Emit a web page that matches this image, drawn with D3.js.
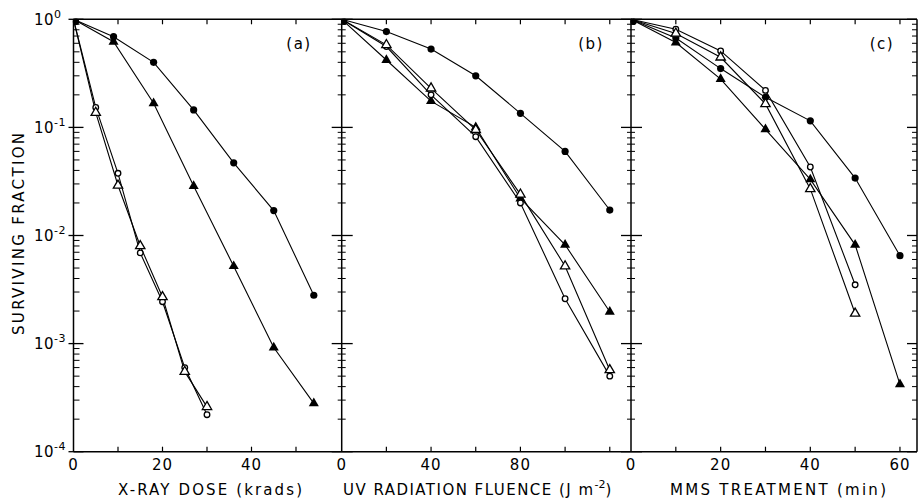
<!DOCTYPE html>
<html>
<head>
<meta charset="utf-8">
<script src="https://cdn.jsdelivr.net/npm/d3@7"></script>
<style>
  body { margin: 0; background: #fff; }
  svg text { font-family: "DejaVu Sans", sans-serif; fill: #000; }
</style>
</head>
<body>
<div id="chart"></div>
<script>
// ---- data ----
const xrayDoseFilled = [0, 9, 18, 27, 36, 45, 54];
const xrayDoseOpen = [0, 5, 10, 15, 20, 25, 30];
const xrayFilledCircle = [1, 0.69, 0.40, 0.145, 0.047, 0.017, 0.0028];
const xrayFilledTriangle = [1, 0.62, 0.167, 0.0287, 0.0052, 0.00092, 0.00028];
const xrayOpenCircle = [1, 0.153, 0.0376, 0.0069, 0.00244, 0.0006, 0.00022];
const xrayOpenTriangle = [1, 0.137, 0.029, 0.008, 0.0027, 0.00055, 0.00026];

const uvFluence = [0, 20, 40, 60, 80, 100, 120];
const uvFilledCircle = [1, 0.77, 0.53, 0.30, 0.135, 0.060, 0.0172];
const uvFilledTriangle = [1, 0.42, 0.175, 0.10, 0.022, 0.0082, 0.00197];
const uvOpenTriangle = [1, 0.58, 0.23, 0.095, 0.024, 0.0052, 0.00057];
const uvOpenCircle = [1, 0.56, 0.20, 0.082, 0.020, 0.0026, 0.0005];

const mmsTime = [0, 10, 20, 30, 40, 50, 60];
const mmsTimeOpen = [0, 10, 20, 30, 40, 50];
const mmsFilledCircle = [1, 0.67, 0.35, 0.19, 0.115, 0.034, 0.0065];
const mmsFilledTriangle = [1, 0.61, 0.28, 0.096, 0.033, 0.0082, 0.00042];
const mmsOpenCircle = [1, 0.81, 0.51, 0.22, 0.043, 0.0035];
const mmsOpenTriangle = [1, 0.74, 0.445, 0.165, 0.027, 0.0019];

const yExponents = [0, -1, -2, -3, -4];
const xrayTicks = [10, 20, 30, 40, 50];
const xrayLabels = [0, 20, 40];
const uvTicks = [20, 40, 60, 80, 100, 120];
const uvLabels = [0, 40, 80];
const mmsTicks = [10, 20, 30, 40, 50, 60];
const mmsLabels = [0, 20, 40, 60];

const width = 918, height = 503;
const yTop = 19.3, yBottom = 451.7;

const svg = d3.select('#chart').append('svg')
    .attr('width', width)
    .attr('height', height);

const y = d3.scaleLog().domain([1e-4, 1]).range([yBottom, yTop]);

const panels = [
    {
        x: d3.scaleLinear().domain([0, 60.27]).range([73.5, 341.7]),
        ticks: xrayTicks, labels: xrayLabels, tag: '(a)', tagX: 299,
        series: [
            { xs: xrayDoseFilled, ys: xrayFilledCircle, shape: 'circle', filled: true },
            { xs: xrayDoseFilled, ys: xrayFilledTriangle, shape: 'triangle', filled: true },
            { xs: xrayDoseOpen, ys: xrayOpenCircle, shape: 'circle', filled: false },
            { xs: xrayDoseOpen, ys: xrayOpenTriangle, shape: 'triangle', filled: false }
        ]
    },
    {
        x: d3.scaleLinear().domain([0, 129.5]).range([341.7, 631]),
        ticks: uvTicks, labels: uvLabels, tag: '(b)', tagX: 591,
        series: [
            { xs: uvFluence, ys: uvFilledCircle, shape: 'circle', filled: true },
            { xs: uvFluence, ys: uvFilledTriangle, shape: 'triangle', filled: true },
            { xs: uvFluence, ys: uvOpenCircle, shape: 'circle', filled: false },
            { xs: uvFluence, ys: uvOpenTriangle, shape: 'triangle', filled: false }
        ]
    },
    {
        x: d3.scaleLinear().domain([0, 63.8]).range([631, 917]),
        ticks: mmsTicks, labels: mmsLabels, tag: '(c)', tagX: 882,
        series: [
            { xs: mmsTime, ys: mmsFilledCircle, shape: 'circle', filled: true },
            { xs: mmsTime, ys: mmsFilledTriangle, shape: 'triangle', filled: true },
            { xs: mmsTimeOpen, ys: mmsOpenCircle, shape: 'circle', filled: false },
            { xs: mmsTimeOpen, ys: mmsOpenTriangle, shape: 'triangle', filled: false }
        ]
    }
];

// frame lines
const axisG = svg.append('g').attr('stroke', '#000').attr('fill', 'none');
axisG.append('line').attr('x1', 73.5).attr('x2', 917).attr('y1', yTop).attr('y2', yTop).attr('stroke-width', 1.5);
axisG.append('line').attr('x1', 73.5).attr('x2', 917).attr('y1', yBottom).attr('y2', yBottom).attr('stroke-width', 1.5);

// vertical axes: x position, left/right extents for major and minor ticks
const vAxes = [
    { x: 73.5, majL: 5, majR: 10, minL: 0, minR: 6 },
    { x: 341.7, majL: 10, majR: 11, minL: 4, minR: 4 },
    { x: 631, majL: 10, majR: 11, minL: 4, minR: 4 },
    { x: 917, majL: 10, majR: 0, minL: 5, minR: 0 }
];
const minorVals = [];
yExponents.slice(1).forEach(e => {
    for (let m = 2; m <= 9; m++) minorVals.push(m * Math.pow(10, e));
});
vAxes.forEach(a => {
    axisG.append('line').attr('x1', a.x).attr('x2', a.x).attr('y1', yTop).attr('y2', yBottom).attr('stroke-width', 1.5);
    axisG.selectAll(null).data(yExponents).enter().append('line')
        .attr('x1', a.x - a.majL).attr('x2', a.x + a.majR)
        .attr('y1', d => y(Math.pow(10, d))).attr('y2', d => y(Math.pow(10, d)))
        .attr('stroke-width', 1.3);
    axisG.selectAll(null).data(minorVals).enter().append('line')
        .attr('x1', a.x - a.minL).attr('x2', a.x + a.minR)
        .attr('y1', d => y(d)).attr('y2', d => y(d))
        .attr('stroke-width', 1);
});

// y tick labels 10^n
const yLab = svg.append('g').selectAll('text').data(yExponents).enter().append('text')
    .attr('x', 34).attr('y', d => y(Math.pow(10, d)) + 5.5)
    .attr('font-size', 15).attr('letter-spacing', 0.5);
yLab.append('tspan').text('10');
yLab.append('tspan').attr('dy', -7).attr('font-size', 11).text(d => d === 0 ? '0' : '-' + Math.abs(d));

svg.append('text')
    .attr('transform', 'translate(24,234) rotate(-90)')
    .attr('text-anchor', 'middle')
    .attr('font-size', 15)
    .attr('textLength', 202).attr('lengthAdjust', 'spacing')
    .text('SURVIVING FRACTION');

const lineGen = d3.line().x(d => d[0]).y(d => d[1]);
const triangle = d3.symbol().type(d3.symbolTriangle);

panels.forEach(p => {
    // x ticks (bottom pointing up, top pointing down)
    axisG.selectAll(null).data(p.ticks).enter().append('line')
        .attr('x1', d => p.x(d)).attr('x2', d => p.x(d))
        .attr('y1', yBottom).attr('y2', yBottom - 5).attr('stroke-width', 1.2);
    axisG.selectAll(null).data(p.ticks).enter().append('line')
        .attr('x1', d => p.x(d)).attr('x2', d => p.x(d))
        .attr('y1', yTop).attr('y2', yTop + 5).attr('stroke-width', 1.2);

    svg.append('g').selectAll('text').data(p.labels).enter().append('text')
        .attr('x', d => p.x(d)).attr('y', 470)
        .attr('text-anchor', 'middle').attr('font-size', 15).attr('letter-spacing', 1)
        .text(d => d);

    svg.append('text').attr('x', p.tagX).attr('y', 49)
        .attr('text-anchor', 'middle').attr('font-size', 15).attr('letter-spacing', 1.5)
        .text(p.tag);

    const g = svg.append('g');
    p.series.forEach(s => {
        const pts = s.xs.map((v, i) => [p.x(v), y(s.ys[i])]);
        g.append('path').attr('d', lineGen(pts))
            .attr('fill', 'none').attr('stroke', '#000').attr('stroke-width', 1.1);
    });
    p.series.forEach(s => {
        const pts = s.xs.map((v, i) => [p.x(v), y(s.ys[i])]).slice(1);
        if (s.shape === 'circle') {
            g.selectAll(null).data(pts).enter().append('circle')
                .attr('cx', d => d[0]).attr('cy', d => d[1])
                .attr('r', s.filled ? 3.6 : 2.8)
                .attr('fill', s.filled ? '#000' : '#fff')
                .attr('stroke', '#000').attr('stroke-width', s.filled ? 0 : 1.3);
        } else {
            g.selectAll(null).data(pts).enter().append('path')
                .attr('d', triangle.size(s.filled ? 44 : 38)())
                .attr('transform', d => `translate(${d[0]},${d[1]})`)
                .attr('fill', s.filled ? '#000' : '#fff')
                .attr('stroke', '#000').attr('stroke-width', s.filled ? 0 : 1.3);
        }
    });
});

// starting point blobs at the origin of each panel
svg.selectAll(null).data(panels).enter().append('circle')
    .attr('cx', p => p.x(0) + 2.5).attr('cy', y(1) + 2.5).attr('r', 3.2).attr('fill', '#000');

// axis titles
svg.append('text').attr('x', 118).attr('y', 495).attr('font-size', 15)
    .attr('textLength', 184).attr('lengthAdjust', 'spacing')
    .text('X-RAY DOSE (krads)');

const uvTitle = svg.append('text').attr('x', 343).attr('y', 495).attr('font-size', 15);
uvTitle.append('tspan').attr('textLength', 250).attr('lengthAdjust', 'spacing').text('UV RADIATION FLUENCE (J m');
uvTitle.append('tspan').attr('dy', -7).attr('font-size', 11).text('-2');
uvTitle.append('tspan').attr('dy', 7).text(')');

svg.append('text').attr('x', 670).attr('y', 495).attr('font-size', 15)
    .attr('textLength', 216).attr('lengthAdjust', 'spacing')
    .text('MMS TREATMENT (min)');
</script>
</body>
</html>
